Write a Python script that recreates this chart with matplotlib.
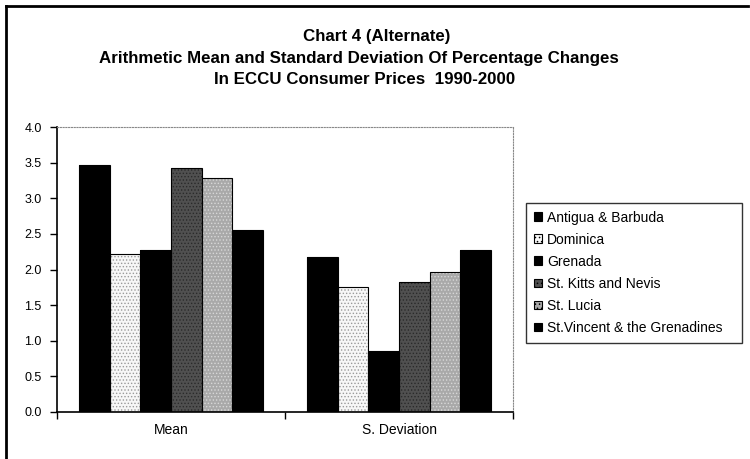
import matplotlib
matplotlib.use("Agg")
import matplotlib.pyplot as plt
import numpy as np
from matplotlib.lines import Line2D
from matplotlib.patches import Patch

plt.rcParams['font.family'] = ['Liberation Sans', 'DejaVu Sans']
plt.rcParams['hatch.linewidth'] = 0.6

categories = ["Mean", "S. Deviation"]
countries = ["Antigua & Barbuda", "Dominica", "Grenada", "St. Kitts and Nevis",
             "St. Lucia", "St.Vincent & the Grenadines"]
antigua = [3.47, 2.18]
dominica = [2.22, 1.75]
grenada = [2.28, 0.85]
st_kitts = [3.42, 1.82]
st_lucia = [3.28, 1.97]
st_vincent = [2.55, 2.27]
series = [antigua, dominica, grenada, st_kitts, st_lucia, st_vincent]
yticks = [0.0, 0.5, 1.0, 1.5, 2.0, 2.5, 3.0, 3.5, 4.0]

faces = ['#000000', '#f7f7f7', '#000000', '#505050', '#a9a9a9', '#000000']
hatch_cols = [None, '#9a9a9a', None, '#2a2a2a', '#d8d8d8', None]

fig = plt.figure(figsize=(7.5, 4.59), dpi=100)
ax = fig.add_axes([57/750, 1-412/459, (513-57)/750, (412-127)/459])

x = np.arange(len(categories))
w = 0.1345
for i, (vals, fc, hc) in enumerate(zip(series, faces, hatch_cols)):
    pos = x + (i - 2.5) * w
    ax.bar(pos, vals, width=w, color=fc, edgecolor='none', zorder=2)
    if hc is not None:
        ax.bar(pos, vals, width=w, facecolor='none', edgecolor=hc, hatch='.....',
               linewidth=0, zorder=3)
    ax.bar(pos, vals, width=w, facecolor='none', edgecolor='black', linewidth=0.8, zorder=4)

ax.set_xlim(-0.5, 1.5)
ax.set_ylim(0, 4.0)
ax.set_yticks(yticks)
ax.set_yticklabels([f"{v:.1f}" for v in yticks], fontsize=9)
ax.set_xticks(x)
ax.set_xticklabels(categories, fontsize=10)
ax.tick_params(axis='x', which='major', length=0, pad=8)
ax.set_xticks([-0.5, 0.5, 1.5], minor=True)
ax.tick_params(axis='x', which='minor', length=5, width=1, direction='out')
ax.tick_params(axis='y', length=5, width=1, direction='out', pad=6)

for s in ['top', 'right']:
    ax.spines[s].set_color('#888888')
    ax.spines[s].set_linestyle((0, (1, 1.5)))
    ax.spines[s].set_linewidth(0.8)
for s in ['left', 'bottom']:
    ax.spines[s].set_color('black')
    ax.spines[s].set_linewidth(1.2)

handles = []
for fc, hc in zip(faces, hatch_cols):
    if hc is None:
        handles.append(Patch(facecolor=fc, edgecolor='black', linewidth=0.8))
    else:
        handles.append(Patch(facecolor=fc, edgecolor='black', linewidth=0.8, hatch='....'))
leg = fig.legend(handles, countries, loc='upper left', mode='expand',
                 bbox_to_anchor=(526/750, 1-342/459, 216/750, 139/459), fontsize=10,
                 frameon=True, fancybox=False, edgecolor='black',
                 handlelength=0.6, handleheight=0.6, handletextpad=0.35,
                 labelspacing=0.58, borderpad=0.55, borderaxespad=0)
leg.get_frame().set_linewidth(1.0)

fig.text(377/750, 1-41.5/459, "Chart 4 (Alternate)", ha='center', va='baseline',
         fontsize=12.2, fontweight='bold')
fig.text(359/750, 1-63.3/459, "Arithmetic Mean and Standard Deviation Of Percentage Changes",
         ha='center', va='baseline', fontsize=12.2, fontweight='bold')
fig.text(365/750, 1-84.5/459, "In ECCU Consumer Prices  1990-2000", ha='center',
         va='baseline', fontsize=12.2, fontweight='bold')

# outer frame (top and left visible in reference)
fig.add_artist(Line2D([6/750, 748/750], [1-6/459, 1-6/459], color='black', lw=2,
                      transform=fig.transFigure))
fig.add_artist(Line2D([6/750, 6/750], [0, 1-6/459], color='black', lw=2,
                      transform=fig.transFigure))

fig.savefig("out.png", dpi=100)
